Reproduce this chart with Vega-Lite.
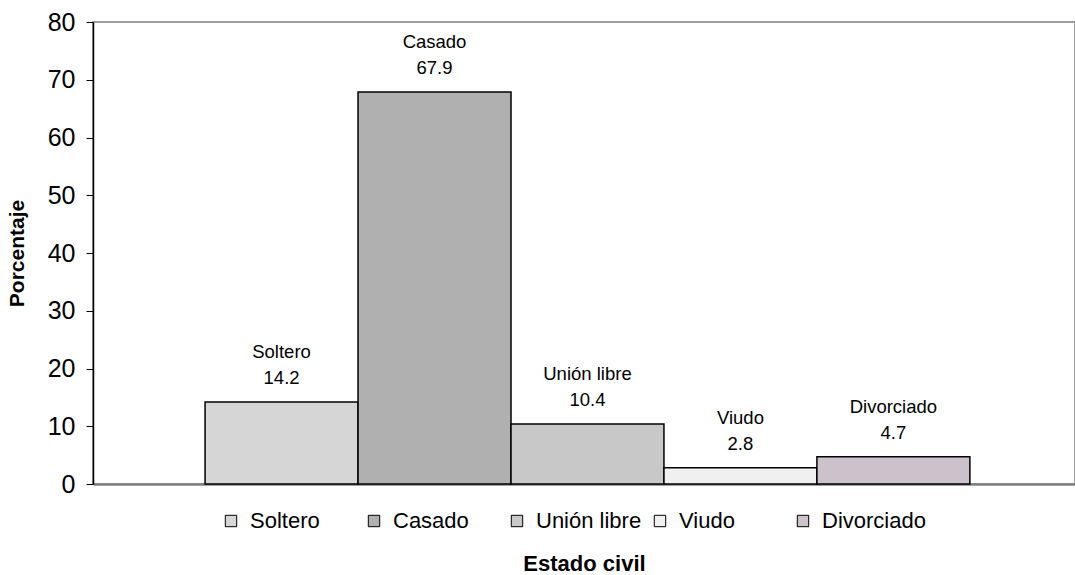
{
  "$schema": "https://vega.github.io/schema/vega-lite/v6.json",
  "width": 982,
  "height": 462,
  "autosize": {"type": "none"},
  "padding": {"left": 93, "top": 22, "right": 0, "bottom": 91},
  "background": "white",
  "config": {
    "font": "Liberation Sans",
    "view": {"stroke": "#808080", "strokeWidth": 1.5}
  },
  "data": {
    "values": [
      {"estado": "Soltero", "pct": 14.2},
      {"estado": "Casado", "pct": 67.9},
      {"estado": "Unión libre", "pct": 10.4},
      {"estado": "Viudo", "pct": 2.8},
      {"estado": "Divorciado", "pct": 4.7}
    ]
  },
  "encoding": {
    "x": {
      "field": "estado",
      "type": "nominal",
      "sort": null,
      "scale": {"paddingInner": 0, "paddingOuter": 0.71, "align": 0.516},
      "axis": {
        "title": "Estado civil",
        "titleFont": "Liberation Sans",
        "titleFontSize": 22,
        "titleFontWeight": "bold",
        "titleColor": "black",
        "titlePadding": 69,
        "labels": false,
        "ticks": false,
        "domainColor": "#808080",
        "domainWidth": 2.5
      }
    },
    "y": {
      "field": "pct",
      "type": "quantitative",
      "scale": {"domain": [0, 80]},
      "axis": {
        "title": "Porcentaje",
        "titleFont": "Liberation Sans",
        "titleFontSize": 21,
        "titleFontWeight": "bold",
        "titleColor": "black",
        "titleX": -66,
        "values": [0, 10, 20, 30, 40, 50, 60, 70, 80],
        "grid": false,
        "labelFontSize": 25,
        "labelColor": "black",
        "labelPadding": 11,
        "tickSize": 7,
        "tickColor": "black",
        "domainColor": "black",
        "domainWidth": 1.5
      }
    }
  },
  "layer": [
    {
      "mark": {"type": "bar", "stroke": "black", "strokeWidth": 1.5},
      "encoding": {
        "fill": {
          "field": "estado",
          "type": "nominal",
          "sort": null,
          "scale": {
            "domain": ["Soltero", "Casado", "Unión libre", "Viudo", "Divorciado"],
            "range": ["#d6d6d6", "#b0b0b0", "#c8c8c8", "#f0f0f0", "#cbc2cb"]
          },
          "legend": {
            "title": null,
            "orient": "none",
            "direction": "horizontal",
            "legendX": 127,
            "legendY": 488,
            "gridAlign": "all",
            "columnPadding": 7,
            "symbolType": "square",
            "symbolSize": 130,
            "symbolStrokeColor": "black",
            "symbolStrokeWidth": 1,
            "labelFontSize": 22,
            "labelColor": "black",
            "labelOffset": 8,
            "labelLimit": 200
          }
        }
      }
    },
    {
      "mark": {"type": "text", "fontSize": 18.5, "dy": -24, "color": "black", "baseline": "middle"},
      "encoding": {"text": {"field": "pct", "type": "quantitative", "format": ".1f"}}
    },
    {
      "mark": {"type": "text", "fontSize": 18.5, "dy": -50, "color": "black", "baseline": "middle"},
      "encoding": {"text": {"field": "estado", "type": "nominal"}}
    }
  ]
}
